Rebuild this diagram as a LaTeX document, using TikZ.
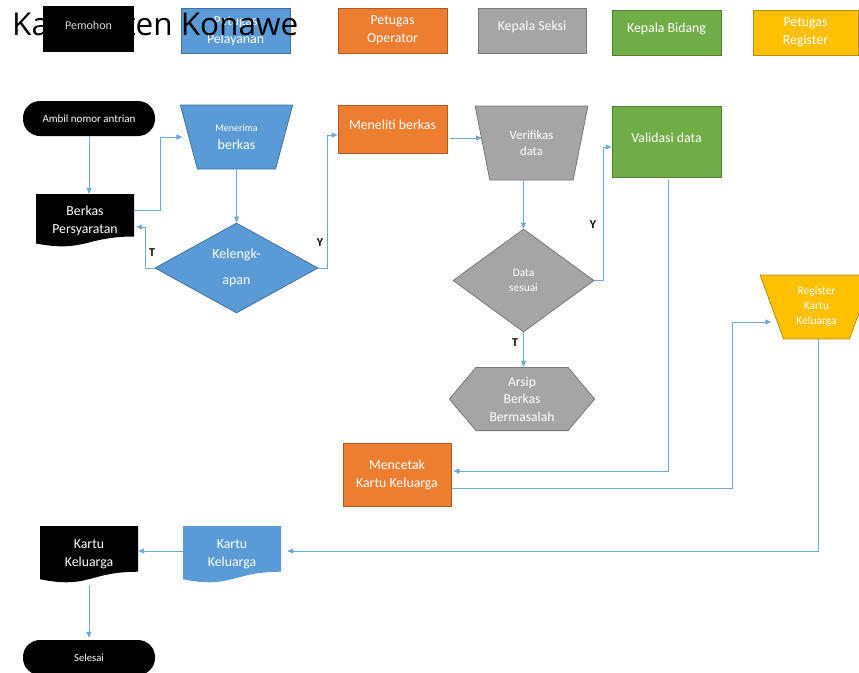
\documentclass[tikz,border=0pt]{standalone}
\usepackage{fontspec}
\setmainfont{Carlito}
\newfontfamily\titlefont{Open Sans}
\usetikzlibrary{shapes.geometric,shapes.misc,arrows.meta,calc}
\definecolor{cblue}{HTML}{5B9BD5}
\definecolor{cblueb}{HTML}{41719C}
\definecolor{corange}{HTML}{ED7D31}
\definecolor{coranb}{HTML}{AE5A21}
\definecolor{cgrey}{HTML}{A5A5A5}
\definecolor{cgreyb}{HTML}{787878}
\definecolor{cgreen}{HTML}{70AD47}
\definecolor{cgreenb}{HTML}{507E32}
\definecolor{cyellow}{HTML}{FFC000}
\definecolor{cyellowb}{HTML}{BC8C00}
\definecolor{cline}{HTML}{6FA8DC}
\newcommand\liftup[1]{\raisebox{4pt}[\height][\depth]{#1}}
\begin{document}
\begin{tikzpicture}[x=1pt,y=-1pt,
  base/.style={inner sep=1pt, align=center, text=white, font=\fontsize{13.8}{18}\selectfont},
  hdr/.style={base, rectangle, minimum width=109pt, minimum height=45pt, line width=0.8pt},
  proc/.style={base, rectangle, line width=0.8pt},
  term/.style={base, rectangle, rounded corners=17pt, fill=black, minimum width=132pt, minimum height=35pt},
  trap/.style={base, trapezium, shape border rotate=180, trapezium stretches=true, line width=0.8pt},
  dia/.style={base, diamond, inner sep=0pt, line width=0.8pt},
  hexa/.style={base, rectangle, path picture={
    \filldraw[fill=cgrey, draw=cgreyb, line width=0.8pt] let \p1=(path picture bounding box.south west), \p2=(path picture bounding box.north east) in
      ({\x1+0.4pt},{(\y1+\y2)/2}) -- ({\x1+27pt},{\y2-0.4pt}) -- ({\x2-27pt},{\y2-0.4pt}) -- ({\x2-0.4pt},{(\y1+\y2)/2}) -- ({\x2-27pt},{\y1+0.4pt}) -- ({\x1+27pt},{\y1+0.4pt}) -- cycle;
  }},
  docfill/.style={base, rectangle, minimum width=98pt, path picture={
    \fill[#1] let \p1=(path picture bounding box.south west), \p2=(path picture bounding box.north east), \n1={\y2-\y1} in
      (\x1,\y2) -- (\x2,\y2) -- (\x2,{\y1+0.198*\n1}) .. controls ({(\x1+\x2)/2},{\y1+0.198*\n1}) and ({(\x1+\x2)/2},{\y1-0.107*\n1}) .. (\x1,{\y1+0.066*\n1}) -- cycle;
  }},
  conn/.style={draw=cline, line width=0.8pt, -{Triangle[length=6pt,width=5pt]}},
  lbl/.style={font=\bfseries\fontsize{12}{14}\selectfont, text=black, inner sep=0pt}
]
\useasboundingbox (0,0) rectangle (859,672);

% header
\node[hdr, fill=cblue, draw=cblueb] (hpel) at (235.5,31) {Petugas\\Pelayanan};
\node[anchor=base west, inner sep=0pt, font=\titlefont\fontsize{31.5}{36}\selectfont] (title) at (12,35) {Kabupaten Konawe};
\node[hdr, fill=black, minimum width=91pt, minimum height=46pt, font=\fontsize{12}{14}\selectfont, text=white!85!black] (hpem) at (88.5,29) {\liftup{Pemohon}};
\node[hdr, fill=corange, draw=coranb] (hop) at (392.5,30.5) {Petugas\\Operator};
\node[hdr, fill=cgrey, draw=cgreyb, minimum width=108pt] (hks) at (532,30.5) {\liftup{Kepala Seksi}};
\node[hdr, fill=cgreen, draw=cgreenb] (hkb) at (666.5,32.5) {\liftup{Kepala Bidang}};
\node[hdr, fill=cyellow, draw=cyellowb, minimum width=105pt] (hreg) at (805.5,32.5) {Petugas\\Register};

% flow
\node[term, font=\fontsize{11}{13}\selectfont] (ambil) at (89,118.5) {Ambil nomor antrian};
\node[docfill=black, minimum height=53pt] (berkas) at (85,220.5) {Berkas\\Persyaratan};
\node[trap, fill=cblue, draw=cblueb, trapezium left angle=70.2, trapezium right angle=70.2, minimum width=113pt, minimum height=64pt] (terima) at (236.5,137) {{\fontsize{10}{12}\selectfont Menerima}\\{\fontsize{14}{17}\selectfont berkas}};
\node[dia, fill=cblue, draw=cblueb, minimum width=163pt, minimum height=90pt, font=\fontsize{14}{26}\selectfont] (lengkap) at (236.5,268) {Kelengk-\\apan};
\node[proc, fill=corange, draw=coranb, minimum width=109pt, minimum height=48pt] (teliti) at (392.5,129) {\liftup{Meneliti berkas}};
\node[trap, fill=cgrey, draw=cgreyb, trapezium left angle=73.4, trapezium right angle=73.4, minimum width=113pt, minimum height=74pt, font=\fontsize{12.7}{16}\selectfont] (verif) at (531.5,143) {Verifikas\\data};
\node[dia, fill=cgrey, draw=cgreyb, minimum width=141pt, minimum height=103pt, font=\fontsize{11.4}{15}\selectfont] (sesuai) at (523.5,280.5) {Data\\sesuai};
\node[proc, fill=cgreen, draw=cgreenb, minimum width=109pt, minimum height=71pt] (valid) at (666.5,141.5) {\liftup{Validasi data}};
\node[hexa, minimum width=146pt, minimum height=64pt, font=\fontsize{13.6}{17.5}\selectfont] (arsip) at (522,399) {Arsip\\Berkas\\Bermasalah};
\node[proc, fill=corange, draw=coranb, minimum width=108pt, minimum height=63pt] (cetak) at (397,474.5) {Mencetak\\Kartu Keluarga};
\node[trap, fill=cyellow, draw=cyellowb, trapezium left angle=70.2, trapezium right angle=70.2, minimum width=113pt, minimum height=64pt, font=\fontsize{11.5}{15}\selectfont] (reg) at (816.5,307) {Register\\Kartu\\Keluarga};
\node[docfill=cblue, minimum height=57pt] (kk2) at (232,554.5) {Kartu\\Keluarga};
\node[docfill=black, minimum height=57pt] (kk1) at (89,554.5) {Kartu\\Keluarga};
\node[term, font=\fontsize{10.7}{12}\selectfont] (selesai) at (89,657.5) {Selesai};

% labels
\node[lbl] (t1) at (152,253) {T};
\node[lbl] (y1) at (320,243) {Y};
\node[lbl] (y2) at (593,225) {Y};
\node[lbl] (t2) at (515,343) {T};

% connectors
\draw[conn] (ambil.south) -- (berkas.north -| ambil.south);
\draw[conn] ([yshift=10.5pt]berkas.east) -- ++(26,0) |- ([xshift=-6pt]terima.west);
\draw[conn] (terima.south) -- (lengkap.north);
\draw[conn] (lengkap.west) -- ++(-9,0) |- ([xshift=2pt,yshift=-6.5pt]berkas.east);
\draw[conn] (lengkap.east) -- ++(9,0) |- ([yshift=-6pt]teliti.west);
\draw[conn] ([xshift=3pt,yshift=-9pt]teliti.east) -- ([yshift=-9pt]teliti.east -| verif.west);
\draw[conn] (sesuai.north |- verif.south) -- (sesuai.north);
\draw[conn] (sesuai.east) -- ++(9,0) |- ([yshift=-5.5pt]valid.west);
\draw[conn] (sesuai.south) -- (arsip.north -| sesuai.south);
\draw[conn] ([xshift=1.5pt,yshift=-3pt]valid.south) |- ([xshift=2pt,yshift=3.5pt]cetak.east);
\draw[conn] ([xshift=1pt,yshift=-13.5pt]cetak.east) -- ++(280,0) |- ([yshift=-15pt]reg.west);
\draw[conn] ([xshift=2pt]reg.south) |- ([xshift=6pt,yshift=3.5pt]kk2.east);
\draw[conn] ([yshift=3.5pt]kk2.west) -- ([yshift=3.5pt]kk1.east);
\draw[conn] ([yshift=-2pt]kk1.south -| ambil.south) -- ([yshift=2pt]selesai.north -| ambil.south);
\end{tikzpicture}
\end{document}
